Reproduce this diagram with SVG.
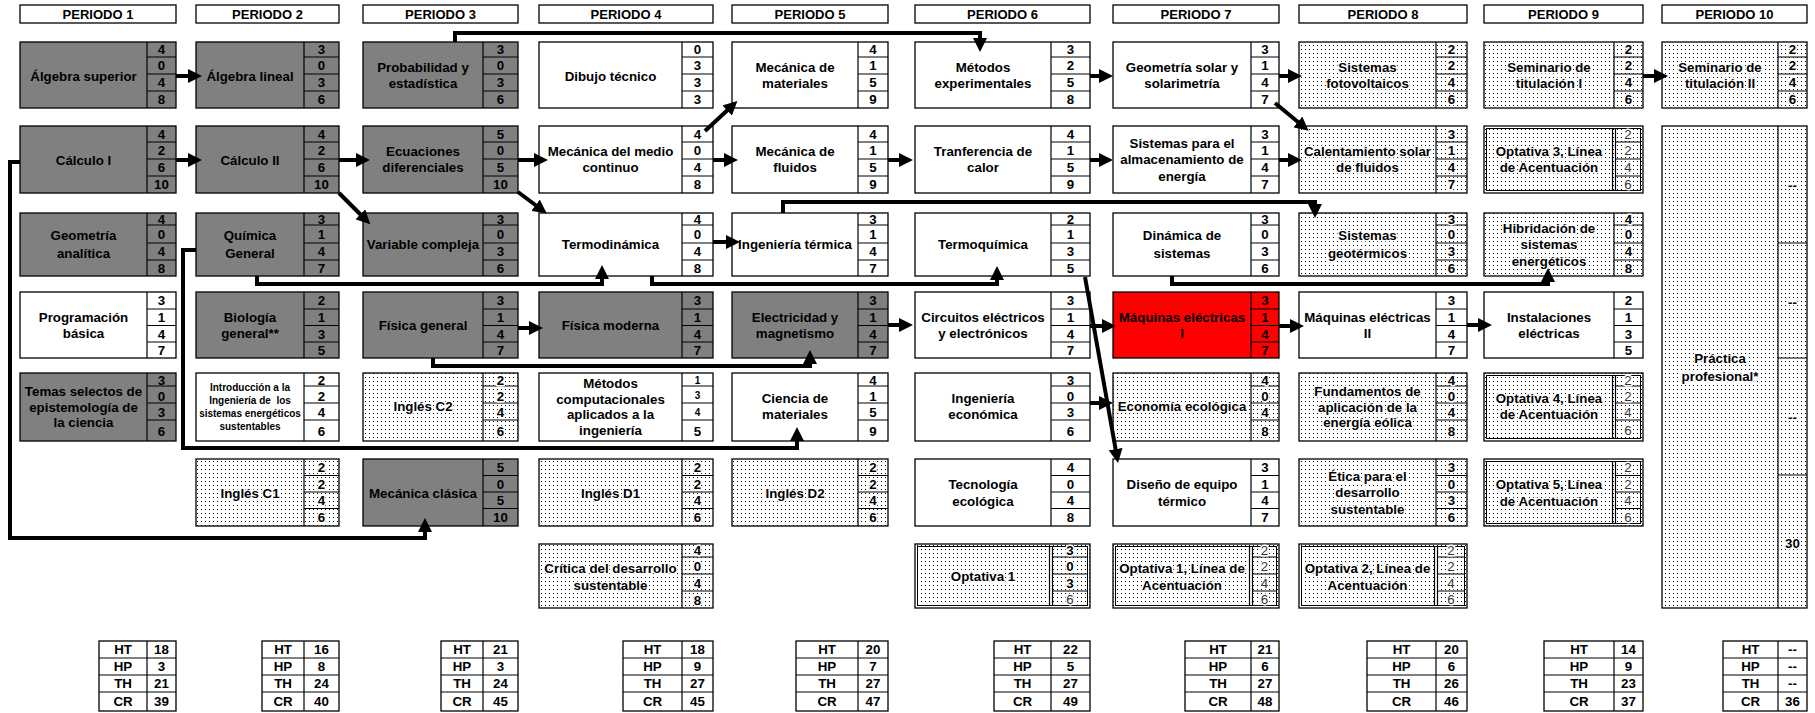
<svg xmlns="http://www.w3.org/2000/svg" width="1815" height="713" viewBox="0 0 1815 713">
<defs>
<pattern id="dots" width="4" height="4" patternUnits="userSpaceOnUse"><rect width="4" height="4" fill="#fff"/><rect x="1" y="1" width="1" height="1" fill="#000"/></pattern>
<marker id="ah" markerWidth="14" markerHeight="14" refX="8" refY="7" orient="auto" markerUnits="userSpaceOnUse"><path d="M0,0L14,7L0,14z" fill="#000"/></marker>
</defs>
<style>
text{font-family:"Liberation Sans",Arial,Helvetica,sans-serif;font-weight:bold;font-size:13.3px;text-anchor:middle;fill:#000}
rect.b{stroke:#000;stroke-width:1.3}
.g{fill:#808080}.w{fill:#fff}.d{fill:url(#dots)}.r{fill:#ff0000}
.ln{fill:none;stroke:#000;stroke-width:1.2}
.ib{fill:none;stroke:#000;stroke-width:1}
.dg text{stroke:#fff;stroke-width:3;paint-order:stroke;stroke-linejoin:round}
.lt{font-weight:normal;fill:#333}
.sm{font-size:10px}
.hd{font-size:13px}
.c path{fill:none;stroke:#000;stroke-width:4;marker-end:url(#ah)}
</style>
<rect width="1815" height="713" fill="#fff"/>

<g id="headers">
<rect class="b w" x="20" y="5" width="156" height="18"/><text class="hd" x="98" y="18.5">PERIODO 1</text>
<rect class="b w" x="196" y="5" width="143" height="18"/><text class="hd" x="267.5" y="18.5">PERIODO 2</text>
<rect class="b w" x="363" y="5" width="155" height="18"/><text class="hd" x="440.5" y="18.5">PERIODO 3</text>
<rect class="b w" x="539" y="5" width="174" height="18"/><text class="hd" x="626" y="18.5">PERIODO 4</text>
<rect class="b w" x="732" y="5" width="156" height="18"/><text class="hd" x="810" y="18.5">PERIODO 5</text>
<rect class="b w" x="915" y="5" width="175" height="18"/><text class="hd" x="1002.5" y="18.5">PERIODO 6</text>
<rect class="b w" x="1113" y="5" width="166" height="18"/><text class="hd" x="1196" y="18.5">PERIODO 7</text>
<rect class="b w" x="1299" y="5" width="168" height="18"/><text class="hd" x="1383" y="18.5">PERIODO 8</text>
<rect class="b w" x="1484" y="5" width="159" height="18"/><text class="hd" x="1563.5" y="18.5">PERIODO 9</text>
<rect class="b w" x="1662" y="5" width="145" height="18"/><text class="hd" x="1734.5" y="18.5">PERIODO 10</text>
</g>

<!-- COLUMN 1 -->
<g id="n-algebra-superior"><rect class="b g" x="20" y="42" width="156" height="66"/><path class="ln" d="M147 42V108M147 57H176M147 74H176M147 91H176"/><text x="83.5" y="80.7">Álgebra superior</text><text x="161.5" y="54.2">4</text><text x="161.5" y="70.2">0</text><text x="161.5" y="87.2">4</text><text x="161.5" y="104.2">8</text></g>
<g id="n-calculo-1"><rect class="b g" x="20" y="126" width="156" height="67"/><path class="ln" d="M147 126V193M147 142H176M147 159H176M147 176H176"/><text x="83.5" y="164.7">Cálculo I</text><text x="161.5" y="138.7">4</text><text x="161.5" y="155.2">2</text><text x="161.5" y="172.2">6</text><text x="161.5" y="189.2">10</text></g>
<g id="n-geometria-analitica"><rect class="b g" x="20" y="213" width="156" height="63"/><path class="ln" d="M147 213V276M147 225H176M147 243H176M147 260H176"/><text x="83.5" y="240.2">Geometría</text><text x="83.5" y="258.2">analítica</text><text x="161.5" y="223.7">4</text><text x="161.5" y="238.7">0</text><text x="161.5" y="256.2">4</text><text x="161.5" y="272.7">8</text></g>
<g id="n-programacion-basica"><rect class="b w" x="20" y="292" width="156" height="66"/><path class="ln" d="M147 292V358M147 309H176M147 325.5H176M147 342H176"/><text x="83.5" y="322.2">Programación</text><text x="83.5" y="338.2">básica</text><text x="161.5" y="305.2">3</text><text x="161.5" y="322">1</text><text x="161.5" y="338.5">4</text><text x="161.5" y="354.7">7</text></g>
<g id="n-temas-selectos"><rect class="b g" x="20" y="373" width="156" height="68"/><path class="ln" d="M147 373V441M147 386H176M147 403H176M147 420H176"/><text x="83.5" y="396.2">Temas selectos de</text><text x="83.5" y="411.7">epistemología de</text><text x="83.5" y="427.2">la ciencia</text><text x="161.5" y="384.5">3</text><text x="161.5" y="400.5">0</text><text x="161.5" y="417">3</text><text x="161.5" y="435.5">6</text></g>

<!-- COLUMN 2 -->
<g id="n-algebra-lineal"><rect class="b g" x="196" y="42" width="143" height="66"/><path class="ln" d="M304 42V108M304 57H339M304 74H339M304 91H339"/><text x="250" y="80.7">Álgebra lineal</text><text x="321.5" y="54.2">3</text><text x="321.5" y="70.2">0</text><text x="321.5" y="87.2">3</text><text x="321.5" y="104.2">6</text></g>
<g id="n-calculo-2"><rect class="b g" x="196" y="126" width="143" height="67"/><path class="ln" d="M304 126V193M304 142H339M304 159H339M304 176H339"/><text x="250" y="164.7">Cálculo II</text><text x="321.5" y="138.7">4</text><text x="321.5" y="155.2">2</text><text x="321.5" y="172.2">6</text><text x="321.5" y="189.2">10</text></g>
<g id="n-quimica-general"><rect class="b g" x="196" y="213" width="143" height="63"/><path class="ln" d="M304 213V276M304 225H339M304 243H339M304 260H339"/><text x="250" y="240.2">Química</text><text x="250" y="258.2">General</text><text x="321.5" y="223.7">3</text><text x="321.5" y="238.7">1</text><text x="321.5" y="256.2">4</text><text x="321.5" y="272.7">7</text></g>
<g id="n-biologia-general"><rect class="b g" x="196" y="292" width="143" height="66"/><path class="ln" d="M304 292V358M304 309H339M304 325.5H339M304 342H339"/><text x="250" y="322.2">Biología</text><text x="250" y="338.2">general**</text><text x="321.5" y="305.2">2</text><text x="321.5" y="322">1</text><text x="321.5" y="338.5">3</text><text x="321.5" y="354.7">5</text></g>
<g id="n-introduccion"><rect class="b w" x="196" y="373" width="143" height="68"/><path class="ln" d="M304 373V441M304 386H339M304 403H339M304 420H339"/><text class="sm" x="250" y="390.6">Introducción a la</text><text class="sm" x="250" y="404.1">Ingeniería de&#160; los</text><text class="sm" x="250" y="417.1">sistemas energéticos</text><text class="sm" x="250" y="430.1">sustentables</text><text x="321.5" y="384.5">2</text><text x="321.5" y="400.5">2</text><text x="321.5" y="417">4</text><text x="321.5" y="435.5">6</text></g>
<g id="n-ingles-c1" class="dg"><rect class="b d" x="196" y="459" width="143" height="67"/><path class="ln" d="M304 459V526M304 475.5H339M304 492H339M304 508.5H339"/><text x="250" y="497.7">Inglés C1</text><text x="321.5" y="472">2</text><text x="321.5" y="488.5">2</text><text x="321.5" y="505">4</text><text x="321.5" y="522">6</text></g>

<!-- COLUMN 3 -->
<g id="n-probabilidad"><rect class="b g" x="363" y="42" width="155" height="66"/><path class="ln" d="M483 42V108M483 57H518M483 74H518M483 91H518"/><text x="423" y="72.2">Probabilidad y</text><text x="423" y="88.2">estadística</text><text x="500.5" y="54.2">3</text><text x="500.5" y="70.2">0</text><text x="500.5" y="87.2">3</text><text x="500.5" y="104.2">6</text></g>
<g id="n-ecuaciones"><rect class="b g" x="363" y="126" width="155" height="67"/><path class="ln" d="M483 126V193M483 142H518M483 159H518M483 176H518"/><text x="423" y="156.2">Ecuaciones</text><text x="423" y="172.2">diferenciales</text><text x="500.5" y="138.7">5</text><text x="500.5" y="155.2">0</text><text x="500.5" y="172.2">5</text><text x="500.5" y="189.2">10</text></g>
<g id="n-variable-compleja"><rect class="b g" x="363" y="213" width="155" height="63"/><path class="ln" d="M483 213V276M483 225H518M483 243H518M483 260H518"/><text x="423" y="249.2">Variable compleja</text><text x="500.5" y="223.7">3</text><text x="500.5" y="238.7">0</text><text x="500.5" y="256.2">3</text><text x="500.5" y="272.7">6</text></g>
<g id="n-fisica-general"><rect class="b g" x="363" y="292" width="155" height="66"/><path class="ln" d="M483 292V358M483 309H518M483 325.5H518M483 342H518"/><text x="423" y="330.4">Física general</text><text x="500.5" y="305.2">3</text><text x="500.5" y="322">1</text><text x="500.5" y="338.5">4</text><text x="500.5" y="354.7">7</text></g>
<g id="n-ingles-c2" class="dg"><rect class="b d" x="363" y="373" width="155" height="68"/><path class="ln" d="M483 373V441M483 386H518M483 403H518M483 420H518"/><text x="423" y="411.4">Inglés C2</text><text x="500.5" y="384.5">2</text><text x="500.5" y="400.5">2</text><text x="500.5" y="417">4</text><text x="500.5" y="435.5">6</text></g>
<g id="n-mecanica-clasica"><rect class="b g" x="363" y="459" width="155" height="67"/><path class="ln" d="M483 459V526M483 475.5H518M483 492H518M483 508.5H518"/><text x="423" y="497.7">Mecánica clásica</text><text x="500.5" y="472">5</text><text x="500.5" y="488.5">0</text><text x="500.5" y="505">5</text><text x="500.5" y="522">10</text></g>

<!-- COLUMN 4 -->
<g id="n-dibujo-tecnico"><rect class="b w" x="539" y="42" width="174" height="66"/><path class="ln" d="M682 42V108M682 57H713M682 74H713M682 91H713"/><text x="610.5" y="80.7">Dibujo técnico</text><text x="697.5" y="54.2">0</text><text x="697.5" y="70.2">3</text><text x="697.5" y="87.2">3</text><text x="697.5" y="104.2">3</text></g>
<g id="n-mecanica-medio-continuo"><rect class="b w" x="539" y="126" width="174" height="67"/><path class="ln" d="M682 126V193M682 142H713M682 159H713M682 176H713"/><text x="610.5" y="156.2">Mecánica del medio</text><text x="610.5" y="172.2">continuo</text><text x="697.5" y="138.7">4</text><text x="697.5" y="155.2">0</text><text x="697.5" y="172.2">4</text><text x="697.5" y="189.2">8</text></g>
<g id="n-termodinamica"><rect class="b w" x="539" y="213" width="174" height="63"/><path class="ln" d="M682 213V276M682 225H713M682 243H713M682 260H713"/><text x="610.5" y="248.7">Termodinámica</text><text x="697.5" y="223.7">4</text><text x="697.5" y="238.7">0</text><text x="697.5" y="256.2">4</text><text x="697.5" y="272.7">8</text></g>
<g id="n-fisica-moderna"><rect class="b g" x="539" y="292" width="174" height="66"/><path class="ln" d="M682 292V358M682 309H713M682 325.5H713M682 342H713"/><text x="610.5" y="330.4">Física moderna</text><text x="697.5" y="305.2">3</text><text x="697.5" y="322">1</text><text x="697.5" y="338.5">4</text><text x="697.5" y="354.7">7</text></g>
<g id="n-metodos-computacionales"><rect class="b w" x="539" y="373" width="174" height="68"/><path class="ln" d="M682 373V441M682 386H713M682 403H713M682 420H713"/><text x="610.5" y="387.7">Métodos</text><text x="610.5" y="403.7">computacionales</text><text x="610.5" y="418.7">aplicados a la</text><text x="610.5" y="434.7">ingeniería</text><text class="sm" x="697.5" y="383.5">1</text><text class="sm" x="697.5" y="399">3</text><text class="sm" x="697.5" y="415.5">4</text><text x="697.5" y="435.5">5</text></g>
<g id="n-ingles-d1" class="dg"><rect class="b d" x="539" y="459" width="174" height="67"/><path class="ln" d="M682 459V526M682 475.5H713M682 492H713M682 508.5H713"/><text x="610.5" y="497.7">Inglés D1</text><text x="697.5" y="472">2</text><text x="697.5" y="488.5">2</text><text x="697.5" y="505">4</text><text x="697.5" y="522">6</text></g>
<g id="n-critica-desarrollo" class="dg"><rect class="b d" x="539" y="544" width="174" height="64"/><path class="ln" d="M682 544V608M682 557H713M682 574H713M682 591H713"/><text x="610.5" y="573">Crítica del desarrollo</text><text x="610.5" y="589.7">sustentable</text><text x="697.5" y="554.5">4</text><text x="697.5" y="571">0</text><text x="697.5" y="588">4</text><text x="697.5" y="604.5">8</text></g>

<!-- COLUMN 5 -->
<g id="n-mecanica-materiales"><rect class="b w" x="732" y="42" width="156" height="66"/><path class="ln" d="M858 42V108M858 57H888M858 74H888M858 91H888"/><text x="795" y="72.2">Mecánica de</text><text x="795" y="88.2">materiales</text><text x="873" y="54.2">4</text><text x="873" y="70.2">1</text><text x="873" y="87.2">5</text><text x="873" y="104.2">9</text></g>
<g id="n-mecanica-fluidos"><rect class="b w" x="732" y="126" width="156" height="67"/><path class="ln" d="M858 126V193M858 142H888M858 159H888M858 176H888"/><text x="795" y="156.2">Mecánica de</text><text x="795" y="172.2">fluidos</text><text x="873" y="138.7">4</text><text x="873" y="155.2">1</text><text x="873" y="172.2">5</text><text x="873" y="189.2">9</text></g>
<g id="n-ingenieria-termica"><rect class="b w" x="732" y="213" width="156" height="63"/><path class="ln" d="M858 213V276M858 225H888M858 243H888M858 260H888"/><text x="795" y="248.7">Ingeniería térmica</text><text x="873" y="223.7">3</text><text x="873" y="238.7">1</text><text x="873" y="256.2">4</text><text x="873" y="272.7">7</text></g>
<g id="n-electricidad-magnetismo"><rect class="b g" x="732" y="292" width="156" height="66"/><path class="ln" d="M858 292V358M858 309H888M858 325.5H888M858 342H888"/><text x="795" y="322.2">Electricidad y</text><text x="795" y="338.2">magnetismo</text><text x="873" y="305.2">3</text><text x="873" y="322">1</text><text x="873" y="338.5">4</text><text x="873" y="354.7">7</text></g>
<g id="n-ciencia-materiales"><rect class="b w" x="732" y="373" width="156" height="68"/><path class="ln" d="M858 373V441M858 386H888M858 403H888M858 420H888"/><text x="795" y="402.7">Ciencia de</text><text x="795" y="418.7">materiales</text><text x="873" y="384.5">4</text><text x="873" y="400.5">1</text><text x="873" y="417">5</text><text x="873" y="435.5">9</text></g>
<g id="n-ingles-d2" class="dg"><rect class="b d" x="732" y="459" width="156" height="67"/><path class="ln" d="M858 459V526M858 475.5H888M858 492H888M858 508.5H888"/><text x="795" y="497.7">Inglés D2</text><text x="873" y="472">2</text><text x="873" y="488.5">2</text><text x="873" y="505">4</text><text x="873" y="522">6</text></g>

<!-- COLUMN 6 -->
<g id="n-metodos-experimentales"><rect class="b w" x="915" y="42" width="175" height="66"/><path class="ln" d="M1051 42V108M1051 57H1090M1051 74H1090M1051 91H1090"/><text x="983" y="72.2">Métodos</text><text x="983" y="88.2">experimentales</text><text x="1070.5" y="54.2">3</text><text x="1070.5" y="70.2">2</text><text x="1070.5" y="87.2">5</text><text x="1070.5" y="104.2">8</text></g>
<g id="n-tranferencia-calor"><rect class="b w" x="915" y="126" width="175" height="67"/><path class="ln" d="M1051 126V193M1051 142H1090M1051 159H1090M1051 176H1090"/><text x="983" y="156.2">Tranferencia de</text><text x="983" y="172.2">calor</text><text x="1070.5" y="138.7">4</text><text x="1070.5" y="155.2">1</text><text x="1070.5" y="172.2">5</text><text x="1070.5" y="189.2">9</text></g>
<g id="n-termoquimica"><rect class="b w" x="915" y="213" width="175" height="63"/><path class="ln" d="M1051 213V276M1051 225H1090M1051 243H1090M1051 260H1090"/><text x="983" y="248.7">Termoquímica</text><text x="1070.5" y="223.7">2</text><text x="1070.5" y="238.7">1</text><text x="1070.5" y="256.2">3</text><text x="1070.5" y="272.7">5</text></g>
<g id="n-circuitos"><rect class="b w" x="915" y="292" width="175" height="66"/><path class="ln" d="M1051 292V358M1051 309H1090M1051 325.5H1090M1051 342H1090"/><text x="983" y="322.2">Circuitos eléctricos</text><text x="983" y="338.2">y electrónicos</text><text x="1070.5" y="305.2">3</text><text x="1070.5" y="322">1</text><text x="1070.5" y="338.5">4</text><text x="1070.5" y="354.7">7</text></g>
<g id="n-ingenieria-economica"><rect class="b w" x="915" y="373" width="175" height="68"/><path class="ln" d="M1051 373V441M1051 386H1090M1051 403H1090M1051 420H1090"/><text x="983" y="402.7">Ingeniería</text><text x="983" y="418.7">económica</text><text x="1070.5" y="384.5">3</text><text x="1070.5" y="400.5">0</text><text x="1070.5" y="417">3</text><text x="1070.5" y="435.5">6</text></g>
<g id="n-tecnologia-ecologica"><rect class="b w" x="915" y="459" width="175" height="67"/><path class="ln" d="M1051 459V526M1051 475.5H1090M1051 492H1090M1051 508.5H1090"/><text x="983" y="489.2">Tecnología</text><text x="983" y="505.7">ecológica</text><text x="1070.5" y="472">4</text><text x="1070.5" y="488.5">0</text><text x="1070.5" y="505">4</text><text x="1070.5" y="522">8</text></g>
<g id="n-optativa-1" class="dg"><rect class="b d" x="915" y="544" width="175" height="64"/><rect class="ib" x="917.5" y="546.5" width="170" height="59"/><path class="ln" d="M1049.5 546.5V605.5M1052.5 546.5V605.5M1052.5 557H1087.5M1052.5 574H1087.5M1052.5 591H1087.5"/><text x="983" y="581.4">Optativa 1</text><text x="1070" y="554.5">3</text><text x="1070" y="571">0</text><text x="1070" y="588">3</text><text class="lt" x="1070" y="604">6</text></g>

<!-- COLUMN 7 -->
<g id="n-geometria-solar"><rect class="b w" x="1113" y="42" width="166" height="66"/><path class="ln" d="M1251 42V108M1251 57H1279M1251 74H1279M1251 91H1279"/><text x="1182" y="72.2">Geometría solar y</text><text x="1182" y="88.2">solarimetría</text><text x="1265" y="54.2">3</text><text x="1265" y="70.2">1</text><text x="1265" y="87.2">4</text><text x="1265" y="104.2">7</text></g>
<g id="n-almacenamiento"><rect class="b w" x="1113" y="126" width="166" height="67"/><path class="ln" d="M1251 126V193M1251 142H1279M1251 159H1279M1251 176H1279"/><text x="1182" y="147.7">Sistemas para el</text><text x="1182" y="164.2">almacenamiento de</text><text x="1182" y="180.7">energía</text><text x="1265" y="138.7">3</text><text x="1265" y="155.2">1</text><text x="1265" y="172.2">4</text><text x="1265" y="189.2">7</text></g>
<g id="n-dinamica-sistemas"><rect class="b w" x="1113" y="213" width="166" height="63"/><path class="ln" d="M1251 213V276M1251 225H1279M1251 243H1279M1251 260H1279"/><text x="1182" y="240.2">Dinámica de</text><text x="1182" y="258.2">sistemas</text><text x="1265" y="223.7">3</text><text x="1265" y="238.7">0</text><text x="1265" y="256.2">3</text><text x="1265" y="272.7">6</text></g>
<g id="n-maquinas-1"><rect class="b r" x="1113" y="292" width="166" height="66"/><path class="ln" d="M1251 292V358M1251 309H1279M1251 325.5H1279M1251 342H1279"/><text x="1182" y="322.2">Máquinas eléctricas</text><text x="1182" y="338.2">I</text><text x="1265" y="305.2">3</text><text x="1265" y="322">1</text><text x="1265" y="338.5">4</text><text x="1265" y="354.7">7</text></g>
<g id="n-economia-ecologica" class="dg"><rect class="b d" x="1113" y="373" width="166" height="68"/><path class="ln" d="M1251 373V441M1251 386H1279M1251 403H1279M1251 420H1279"/><text x="1182" y="411.4">Economía ecológica</text><text x="1265" y="384.5">4</text><text x="1265" y="400.5">0</text><text x="1265" y="417">4</text><text x="1265" y="435.5">8</text></g>
<g id="n-diseno-equipo"><rect class="b w" x="1113" y="459" width="166" height="67"/><path class="ln" d="M1251 459V526M1251 475.5H1279M1251 492H1279M1251 508.5H1279"/><text x="1182" y="489.2">Diseño de equipo</text><text x="1182" y="505.7">térmico</text><text x="1265" y="472">3</text><text x="1265" y="488.5">1</text><text x="1265" y="505">4</text><text x="1265" y="522">7</text></g>
<g id="n-optativa-1-linea" class="dg"><rect class="b d" x="1113" y="544" width="166" height="64"/><rect class="ib" x="1115.5" y="546.5" width="161" height="59"/><path class="ln" d="M1249.5 546.5V605.5M1252.5 546.5V605.5M1252.5 557H1276.5M1252.5 574H1276.5M1252.5 591H1276.5"/><text x="1182" y="573">Optativa 1, Línea de</text><text x="1182" y="589.7">Acentuación</text><text class="lt" x="1264.5" y="554.5">2</text><text class="lt" x="1264.5" y="571">2</text><text class="lt" x="1264.5" y="588">4</text><text class="lt" x="1264.5" y="604">6</text></g>

<!-- COLUMN 8 -->
<g id="n-fotovoltaicos" class="dg"><rect class="b d" x="1299" y="42" width="168" height="66"/><path class="ln" d="M1436 42V108M1436 57H1467M1436 74H1467M1436 91H1467"/><text x="1367.5" y="72.2">Sistemas</text><text x="1367.5" y="88.2">fotovoltaicos</text><text x="1451.5" y="54.2">2</text><text x="1451.5" y="70.2">2</text><text x="1451.5" y="87.2">4</text><text x="1451.5" y="104.2">6</text></g>
<g id="n-calentamiento-solar" class="dg"><rect class="b d" x="1299" y="126" width="168" height="67"/><path class="ln" d="M1436 126V193M1436 142H1467M1436 159H1467M1436 176H1467"/><text x="1367.5" y="156.2">Calentamiento solar</text><text x="1367.5" y="172.2">de fluidos</text><text x="1451.5" y="138.7">3</text><text x="1451.5" y="155.2">1</text><text x="1451.5" y="172.2">4</text><text x="1451.5" y="189.2">7</text></g>
<g id="n-geotermicos" class="dg"><rect class="b d" x="1299" y="213" width="168" height="63"/><path class="ln" d="M1436 213V276M1436 225H1467M1436 243H1467M1436 260H1467"/><text x="1367.5" y="240.2">Sistemas</text><text x="1367.5" y="258.2">geotérmicos</text><text x="1451.5" y="223.7">3</text><text x="1451.5" y="238.7">0</text><text x="1451.5" y="256.2">3</text><text x="1451.5" y="272.7">6</text></g>
<g id="n-maquinas-2"><rect class="b w" x="1299" y="292" width="168" height="66"/><path class="ln" d="M1436 292V358M1436 309H1467M1436 325.5H1467M1436 342H1467"/><text x="1367.5" y="322.2">Máquinas eléctricas</text><text x="1367.5" y="338.2">II</text><text x="1451.5" y="305.2">3</text><text x="1451.5" y="322">1</text><text x="1451.5" y="338.5">4</text><text x="1451.5" y="354.7">7</text></g>
<g id="n-energia-eolica" class="dg"><rect class="b d" x="1299" y="373" width="168" height="68"/><path class="ln" d="M1436 373V441M1436 386H1467M1436 403H1467M1436 420H1467"/><text x="1367.5" y="396.2">Fundamentos de</text><text x="1367.5" y="411.7">aplicación de la</text><text x="1367.5" y="427.2">energía eólica</text><text x="1451.5" y="384.5">4</text><text x="1451.5" y="400.5">0</text><text x="1451.5" y="417">4</text><text x="1451.5" y="435.5">8</text></g>
<g id="n-etica" class="dg"><rect class="b d" x="1299" y="459" width="168" height="67"/><path class="ln" d="M1436 459V526M1436 475.5H1467M1436 492H1467M1436 508.5H1467"/><text x="1367.5" y="480.7">Ética para el</text><text x="1367.5" y="497.2">desarrollo</text><text x="1367.5" y="513.7">sustentable</text><text x="1451.5" y="472">3</text><text x="1451.5" y="488.5">0</text><text x="1451.5" y="505">3</text><text x="1451.5" y="522">6</text></g>
<g id="n-optativa-2-linea" class="dg"><rect class="b d" x="1299" y="544" width="168" height="64"/><rect class="ib" x="1301.5" y="546.5" width="163" height="59"/><path class="ln" d="M1434.5 546.5V605.5M1437.5 546.5V605.5M1437.5 557H1464.5M1437.5 574H1464.5M1437.5 591H1464.5"/><text x="1367.5" y="573">Optativa 2, Línea de</text><text x="1367.5" y="589.7">Acentuación</text><text class="lt" x="1451" y="554.5">2</text><text class="lt" x="1451" y="571">2</text><text class="lt" x="1451" y="588">4</text><text class="lt" x="1451" y="604">6</text></g>

<!-- COLUMN 9 -->
<g id="n-seminario-1" class="dg"><rect class="b d" x="1484" y="42" width="159" height="66"/><path class="ln" d="M1614 42V108M1614 57H1643M1614 74H1643M1614 91H1643"/><text x="1549" y="72.2">Seminario de</text><text x="1549" y="88.2">titulación I</text><text x="1628.5" y="54.2">2</text><text x="1628.5" y="70.2">2</text><text x="1628.5" y="87.2">4</text><text x="1628.5" y="104.2">6</text></g>
<g id="n-optativa-3" class="dg"><rect class="b d" x="1484" y="126" width="159" height="67"/><rect class="ib" x="1486.5" y="128.5" width="154" height="62"/><path class="ln" d="M1612.5 128.5V190.5M1615.5 128.5V190.5M1615.5 142H1640.5M1615.5 159H1640.5M1615.5 176H1640.5"/><text x="1549" y="156.2">Optativa 3, Línea</text><text x="1549" y="172.2">de Acentuación</text><text class="lt" x="1628" y="138.7">2</text><text class="lt" x="1628" y="155.2">2</text><text class="lt" x="1628" y="172.2">4</text><text class="lt" x="1628" y="188.7">6</text></g>
<g id="n-hibridacion" class="dg"><rect class="b d" x="1484" y="213" width="159" height="63"/><path class="ln" d="M1614 213V276M1614 225H1643M1614 243H1643M1614 260H1643"/><text x="1549" y="232.7">Hibridación de</text><text x="1549" y="249.2">sistemas</text><text x="1549" y="265.7">energéticos</text><text x="1628.5" y="223.7">4</text><text x="1628.5" y="238.7">0</text><text x="1628.5" y="256.2">4</text><text x="1628.5" y="272.7">8</text></g>
<g id="n-instalaciones"><rect class="b w" x="1484" y="292" width="159" height="66"/><path class="ln" d="M1614 292V358M1614 309H1643M1614 325.5H1643M1614 342H1643"/><text x="1549" y="322.2">Instalaciones</text><text x="1549" y="338.2">eléctricas</text><text x="1628.5" y="305.2">2</text><text x="1628.5" y="322">1</text><text x="1628.5" y="338.5">3</text><text x="1628.5" y="354.7">5</text></g>
<g id="n-optativa-4" class="dg"><rect class="b d" x="1484" y="373" width="159" height="68"/><rect class="ib" x="1486.5" y="375.5" width="154" height="63"/><path class="ln" d="M1612.5 375.5V438.5M1615.5 375.5V438.5M1615.5 386H1640.5M1615.5 403H1640.5M1615.5 420H1640.5"/><text x="1549" y="402.7">Optativa 4, Línea</text><text x="1549" y="418.7">de Acentuación</text><text class="lt" x="1628" y="384.5">2</text><text class="lt" x="1628" y="400.5">2</text><text class="lt" x="1628" y="417">4</text><text class="lt" x="1628" y="435">6</text></g>
<g id="n-optativa-5" class="dg"><rect class="b d" x="1484" y="459" width="159" height="67"/><rect class="ib" x="1486.5" y="461.5" width="154" height="62"/><path class="ln" d="M1612.5 461.5V523.5M1615.5 461.5V523.5M1615.5 475.5H1640.5M1615.5 492H1640.5M1615.5 508.5H1640.5"/><text x="1549" y="489.2">Optativa 5, Línea</text><text x="1549" y="505.7">de Acentuación</text><text class="lt" x="1628" y="472">2</text><text class="lt" x="1628" y="488.5">2</text><text class="lt" x="1628" y="505">4</text><text class="lt" x="1628" y="521.5">6</text></g>

<!-- COLUMN 10 -->
<g id="n-seminario-2" class="dg"><rect class="b d" x="1662" y="42" width="145" height="66"/><path class="ln" d="M1778 42V108M1778 57H1807M1778 74H1807M1778 91H1807"/><text x="1720" y="72.2">Seminario de</text><text x="1720" y="88.2">titulación II</text><text x="1792.5" y="54.2">2</text><text x="1792.5" y="70.2">2</text><text x="1792.5" y="87.2">4</text><text x="1792.5" y="104.2">6</text></g>
<g id="n-practica-profesional" class="dg"><rect class="b d" x="1662" y="126" width="145" height="482"/><path class="ln" d="M1778 126V608M1778 243H1807M1778 358H1807M1778 475H1807"/><text x="1720" y="362.7">Práctica</text><text x="1720" y="380.7">profesional*</text><text x="1792.5" y="189.7">--</text><text x="1792.5" y="306.7">--</text><text x="1792.5" y="421.7">--</text><text x="1792.5" y="547.7">30</text></g>

<!-- SUMMARY TABLES -->
<g id="t-periodo-1"><rect class="b w" x="99" y="641" width="77" height="70"/><path class="ln" d="M147 641V711M99 658H176M99 675H176M99 692H176"/><text x="123" y="654.2">HT</text><text x="123" y="671.2">HP</text><text x="123" y="688.2">TH</text><text x="123" y="706.2">CR</text><text x="161.5" y="654.2">18</text><text x="161.5" y="671.2">3</text><text x="161.5" y="688.2">21</text><text x="161.5" y="706.2">39</text></g>
<g id="t-periodo-2"><rect class="b w" x="262" y="641" width="77" height="70"/><path class="ln" d="M304 641V711M262 658H339M262 675H339M262 692H339"/><text x="283" y="654.2">HT</text><text x="283" y="671.2">HP</text><text x="283" y="688.2">TH</text><text x="283" y="706.2">CR</text><text x="321.5" y="654.2">16</text><text x="321.5" y="671.2">8</text><text x="321.5" y="688.2">24</text><text x="321.5" y="706.2">40</text></g>
<g id="t-periodo-3"><rect class="b w" x="441" y="641" width="77" height="70"/><path class="ln" d="M483 641V711M441 658H518M441 675H518M441 692H518"/><text x="462" y="654.2">HT</text><text x="462" y="671.2">HP</text><text x="462" y="688.2">TH</text><text x="462" y="706.2">CR</text><text x="500.5" y="654.2">21</text><text x="500.5" y="671.2">3</text><text x="500.5" y="688.2">24</text><text x="500.5" y="706.2">45</text></g>
<g id="t-periodo-4"><rect class="b w" x="623" y="641" width="90" height="70"/><path class="ln" d="M682 641V711M623 658H713M623 675H713M623 692H713"/><text x="652.5" y="654.2">HT</text><text x="652.5" y="671.2">HP</text><text x="652.5" y="688.2">TH</text><text x="652.5" y="706.2">CR</text><text x="697.5" y="654.2">18</text><text x="697.5" y="671.2">9</text><text x="697.5" y="688.2">27</text><text x="697.5" y="706.2">45</text></g>
<g id="t-periodo-5"><rect class="b w" x="796" y="641" width="92" height="70"/><path class="ln" d="M858 641V711M796 658H888M796 675H888M796 692H888"/><text x="827" y="654.2">HT</text><text x="827" y="671.2">HP</text><text x="827" y="688.2">TH</text><text x="827" y="706.2">CR</text><text x="873" y="654.2">20</text><text x="873" y="671.2">7</text><text x="873" y="688.2">27</text><text x="873" y="706.2">47</text></g>
<g id="t-periodo-6"><rect class="b w" x="994" y="641" width="96" height="70"/><path class="ln" d="M1051 641V711M994 658H1090M994 675H1090M994 692H1090"/><text x="1022.5" y="654.2">HT</text><text x="1022.5" y="671.2">HP</text><text x="1022.5" y="688.2">TH</text><text x="1022.5" y="706.2">CR</text><text x="1070.5" y="654.2">22</text><text x="1070.5" y="671.2">5</text><text x="1070.5" y="688.2">27</text><text x="1070.5" y="706.2">49</text></g>
<g id="t-periodo-7"><rect class="b w" x="1185" y="641" width="94" height="70"/><path class="ln" d="M1251 641V711M1185 658H1279M1185 675H1279M1185 692H1279"/><text x="1218" y="654.2">HT</text><text x="1218" y="671.2">HP</text><text x="1218" y="688.2">TH</text><text x="1218" y="706.2">CR</text><text x="1265" y="654.2">21</text><text x="1265" y="671.2">6</text><text x="1265" y="688.2">27</text><text x="1265" y="706.2">48</text></g>
<g id="t-periodo-8"><rect class="b w" x="1367" y="641" width="100" height="70"/><path class="ln" d="M1436 641V711M1367 658H1467M1367 675H1467M1367 692H1467"/><text x="1401.5" y="654.2">HT</text><text x="1401.5" y="671.2">HP</text><text x="1401.5" y="688.2">TH</text><text x="1401.5" y="706.2">CR</text><text x="1451.5" y="654.2">20</text><text x="1451.5" y="671.2">6</text><text x="1451.5" y="688.2">26</text><text x="1451.5" y="706.2">46</text></g>
<g id="t-periodo-9"><rect class="b w" x="1544" y="641" width="99" height="70"/><path class="ln" d="M1614 641V711M1544 658H1643M1544 675H1643M1544 692H1643"/><text x="1579" y="654.2">HT</text><text x="1579" y="671.2">HP</text><text x="1579" y="688.2">TH</text><text x="1579" y="706.2">CR</text><text x="1628.5" y="654.2">14</text><text x="1628.5" y="671.2">9</text><text x="1628.5" y="688.2">23</text><text x="1628.5" y="706.2">37</text></g>
<g id="t-periodo-10"><rect class="b w" x="1723" y="641" width="84" height="70"/><path class="ln" d="M1778 641V711M1723 658H1807M1723 675H1807M1723 692H1807"/><text x="1750.5" y="654.2">HT</text><text x="1750.5" y="671.2">HP</text><text x="1750.5" y="688.2">TH</text><text x="1750.5" y="706.2">CR</text><text x="1792.5" y="654.2">--</text><text x="1792.5" y="671.2">--</text><text x="1792.5" y="688.2">--</text><text x="1792.5" y="706.2">36</text></g>

<g id="connectors" class="c">
<path d="M176 76H196"/>
<path d="M176 160H196"/>
<path d="M339 160H364"/>
<path d="M339 193L366 220"/>
<path d="M20 162H10V538H425V524"/>
<path d="M455 42V33H980V46"/>
<path d="M518 160H542"/>
<path d="M518 192L542 210"/>
<path d="M705 131L733 105"/>
<path d="M713 160H732"/>
<path d="M888 160H907"/>
<path d="M1090 76H1107"/>
<path d="M1279 76H1296"/>
<path d="M1275 103L1304 127"/>
<path d="M1090 160H1107"/>
<path d="M1279 160H1296"/>
<path d="M1643 76H1662"/>
<path d="M783 213V202H1315V212"/>
<path d="M713 242H734"/>
<path d="M257 276V284H602V271"/>
<path d="M652 276V284H997V272"/>
<path d="M518 328H537"/>
<path d="M888 325H907"/>
<path d="M1090 326H1110"/>
<path d="M1279 326H1298"/>
<path d="M1467 325H1486"/>
<path d="M1172 276V284H1548V274"/>
<path d="M433 358V366H810V356"/>
<path d="M196 250H183V448H797V433"/>
<path d="M1085 277L1117 457"/>
<path d="M1090 403H1107"/>
</g>
</svg>
